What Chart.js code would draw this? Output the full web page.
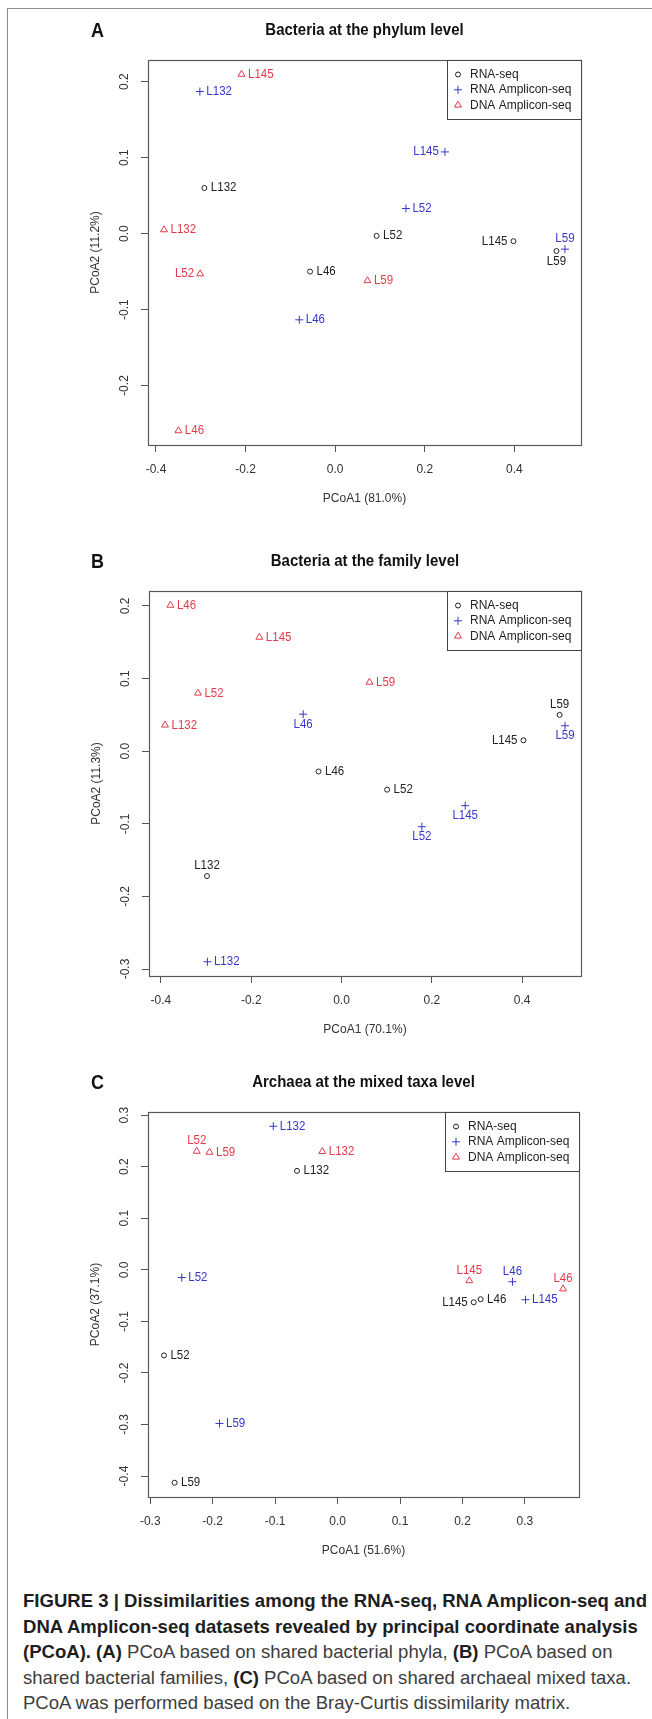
<!DOCTYPE html>
<html>
<head>
<meta charset="utf-8">
<script src="https://cdn.jsdelivr.net/npm/chart.js@4.4.1/dist/chart.umd.min.js"></script>
<style>
  html, body { margin: 0; padding: 0; background: #fff; overflow: hidden; }
  #page { position: relative; width: 652px; height: 1719px; overflow: hidden; }
  #frame { position: absolute; left: 7px; top: 8px; width: 700px; height: 1800px; border: 1px solid #8c8c8c; }
  canvas { position: absolute; left: 0; }
  #caption { position: absolute; left: 23px; top: 1588px; font-family: "Liberation Sans", Arial, Helvetica, sans-serif; font-size: 18.5px; line-height: 25.6px; color: #3d3d3d; }
  #caption div { white-space: nowrap; transform-origin: 0 50%; }
  #caption span.line { display: inline-block; }
  #caption b { color: #1e1e1e; }
</style>
</head>
<body>
<div id="page">
  <div id="frame"></div>
  <canvas id="chartA" width="652" height="520" style="top:0px"></canvas>
  <canvas id="chartB" width="652" height="520" style="top:530px"></canvas>
  <canvas id="chartC" width="652" height="520" style="top:1050px"></canvas>
  <div id="caption">
    <div><span class="line"><b>FIGURE 3 | Dissimilarities among the RNA-seq, RNA Amplicon-seq and</b></span></div>
    <div><span class="line"><b>DNA Amplicon-seq datasets revealed by principal coordinate analysis</b></span></div>
    <div><span class="line"><b>(PCoA). (A)</b> PCoA based on shared bacterial phyla, <b>(B)</b> PCoA based on</span></div>
    <div><span class="line">shared bacterial families, <b>(C)</b> PCoA based on shared archaeal mixed taxa.</span></div>
    <div><span class="line">PCoA was performed based on the Bray-Curtis dissimilarity matrix.</span></div>
  </div>
</div>
<script>
// samples, same order in every array
const samples = ['L46', 'L52', 'L59', 'L132', 'L145']
const seriesNames = ['RNA-seq', 'RNA Amplicon-seq', 'DNA Amplicon-seq']

// A - bacteria, phylum level
const phylumRnaSeqX = [-0.056, 0.0925, 0.494, -0.292, 0.398]
const phylumRnaSeqY = [-0.050, -0.003, -0.023, 0.060, -0.010]
const phylumRnaAmpX = [-0.080, 0.158, 0.513, -0.302, 0.245]
const phylumRnaAmpY = [-0.1135, 0.033, -0.0205, 0.187, 0.1075]
const phylumDnaAmpX = [-0.350, -0.3015, 0.072, -0.382, -0.209]
const phylumDnaAmpY = [-0.2595, -0.053, -0.062, 0.005, 0.2097]

// B - bacteria, family level
const familyRnaSeqX = [-0.051, 0.101, 0.483, -0.298, 0.403]
const familyRnaSeqY = [-0.028, -0.053, 0.050, -0.172, 0.015]
const familyRnaAmpX = [-0.085, 0.178, 0.495, -0.297, 0.274]
const familyRnaAmpY = [0.051, -0.104, 0.035, -0.290, -0.075]
const familyDnaAmpX = [-0.379, -0.318, 0.062, -0.391, -0.182]
const familyDnaAmpY = [0.201, 0.080, 0.095, 0.036, 0.157]

// C - archaea, mixed taxa level
const archaeaRnaSeqX = [0.229, -0.278, -0.261, -0.065, 0.218]
const archaeaRnaSeqY = [-0.057, -0.166, -0.413, 0.192, -0.063]
const archaeaRnaAmpX = [0.280, -0.2495, -0.189, -0.103, 0.301]
const archaeaRnaAmpY = [-0.023, -0.015, -0.298, 0.2785, -0.058]
const archaeaDnaAmpX = [0.361, -0.2255, -0.205, -0.0245, 0.211]
const archaeaDnaAmpY = [-0.037, 0.230, 0.228, 0.2295, -0.021]

// side of the point where each sample name is written
const phylumLabelSide = [
  ['right', 'right', 'below', 'right', 'left'],
  ['right', 'right', 'above', 'right', 'left'],
  ['right', 'left', 'right', 'right', 'right']
]
const familyLabelSide = [
  ['right', 'right', 'above', 'above', 'left'],
  ['below', 'below', 'below', 'right', 'below'],
  ['right', 'right', 'right', 'right', 'right']
]
const archaeaLabelSide = [
  ['right', 'right', 'right', 'right', 'left'],
  ['above', 'right', 'right', 'right', 'right'],
  ['above', 'above', 'right', 'right', 'above']
]

const FONT = '"Liberation Sans", Arial, Helvetica, sans-serif'
const colors = ['#222222', '#3636cc', '#e23a48']
const styles = ['circle', 'cross', 'triangle']
const radii = [2.5, 4, 4]
const STRETCH = 1.1 // text in the original is a little taller than wide

function toPoints(xs, ys) {
  return xs.map((x, i) => ({ x: x, y: ys[i] }))
}

// R default: data range plus 4% on each side
function rRange(arrays) {
  let all = [].concat(...arrays)
  let lo = Math.min(...all), hi = Math.max(...all)
  let d = (hi - lo) * 0.04
  return [lo - d, hi + d]
}

function fmt(v) {
  if (Math.abs(v) < 1e-9) v = 0
  return v.toFixed(1)
}

function tallText(ctx, text, x, y) {
  ctx.save()
  ctx.translate(x, y)
  ctx.scale(1, STRETCH)
  ctx.fillText(text, 0, 0)
  ctx.restore()
}

function drawSymbol(ctx, style, x, y, r) {
  ctx.beginPath()
  if (style === 'circle') {
    ctx.arc(x, y, r, 0, Math.PI * 2)
  } else if (style === 'cross') {
    ctx.moveTo(x - r, y); ctx.lineTo(x + r, y)
    ctx.moveTo(x, y - r); ctx.lineTo(x, y + r)
  } else {
    ctx.moveTo(x, y - r)
    ctx.lineTo(x + r * Math.sin(Math.PI / 3 * 2), y + r / 2)
    ctx.lineTo(x - r * Math.sin(Math.PI / 3 * 2), y + r / 2)
    ctx.closePath()
  }
  ctx.stroke()
}

const panelDecor = {
  id: 'panelDecor',
  afterDraw(chart, args, opts) {
    const ctx = chart.ctx
    const a = chart.chartArea
    const xs = chart.scales.x, ys = chart.scales.y
    ctx.save()

    // plot box
    ctx.strokeStyle = '#5a5a5a'
    ctx.lineWidth = 1.2
    ctx.strokeRect(Math.round(a.left) + 0.5, Math.round(a.top) + 0.5,
      Math.round(a.right - a.left), Math.round(a.bottom - a.top))

    // tick labels
    ctx.fillStyle = '#333'
    ctx.font = '12px ' + FONT
    ctx.textAlign = 'center'
    ctx.textBaseline = 'middle'
    xs.ticks.forEach(t => {
      tallText(ctx, fmt(t.value), xs.getPixelForValue(t.value), a.bottom + 24)
    })
    ys.ticks.forEach(t => {
      ctx.save()
      ctx.translate(a.left - 23.5, ys.getPixelForValue(t.value))
      ctx.rotate(-Math.PI / 2)
      ctx.fillText(fmt(t.value), 0, 0)
      ctx.restore()
    })

    // axis titles
    tallText(ctx, opts.xTitle, (a.left + a.right) / 2, a.bottom + 53.5)
    ctx.save()
    ctx.translate(a.left - 52.5, (a.top + a.bottom) / 2)
    ctx.rotate(-Math.PI / 2)
    ctx.fillText(opts.yTitle, 0, 0)
    ctx.restore()

    // panel letter + title
    ctx.fillStyle = '#111'
    ctx.font = 'bold 18px ' + FONT
    ctx.textAlign = 'left'
    tallText(ctx, opts.letter, 91, a.top - 28)
    ctx.font = 'bold 15px ' + FONT
    ctx.textAlign = 'center'
    tallText(ctx, opts.title, (a.left + a.right) / 2, a.top - 30)

    // sample names next to the points
    ctx.font = '11.5px ' + FONT
    chart.data.datasets.forEach((ds, i) => {
      const meta = chart.getDatasetMeta(i)
      ctx.fillStyle = colors[i]
      meta.data.forEach((pt, j) => {
        const side = opts.sides[i][j]
        const name = samples[j]
        if (side === 'right') {
          ctx.textAlign = 'left'; tallText(ctx, name, pt.x + 6.5, pt.y)
        } else if (side === 'left') {
          ctx.textAlign = 'right'; tallText(ctx, name, pt.x - 6, pt.y)
        } else if (side === 'above') {
          ctx.textAlign = 'center'; tallText(ctx, name, pt.x, pt.y - 10.5)
        } else {
          ctx.textAlign = 'center'; tallText(ctx, name, pt.x, pt.y + 10)
        }
      })
    })

    // legend, top right corner
    const lw = 134, lh = 59
    const lx = Math.round(a.right - lw), ly = Math.round(a.top)
    ctx.fillStyle = '#fff'
    ctx.fillRect(lx, ly, lw, lh)
    ctx.strokeStyle = '#444'
    ctx.lineWidth = 1
    ctx.strokeRect(lx + 0.5, ly + 0.5, lw, lh)
    ctx.font = '12px ' + FONT
    ctx.textAlign = 'left'
    seriesNames.forEach((name, i) => {
      const y = ly + 14.5 + i * 15.3
      ctx.strokeStyle = colors[i]
      drawSymbol(ctx, styles[i], lx + 11, y, radii[i])
      ctx.fillStyle = '#222'
      tallText(ctx, name, lx + 23, y)
    })
    ctx.restore()
  }
}

function makePanel(id, xsArr, ysArr, stepX, area, decor) {
  const xr = rRange(xsArr), yr = rRange(ysArr)
  const datasets = seriesNames.map((name, i) => ({
    label: name,
    data: toPoints(xsArr[i], ysArr[i]),
    pointStyle: styles[i],
    pointRadius: radii[i],
    borderColor: colors[i],
    backgroundColor: 'rgba(0,0,0,0)',
    borderWidth: 1
  }))
  const tickGrid = { display: true, drawOnChartArea: false, drawTicks: true, tickLength: 7, tickColor: '#555', tickWidth: 1 }
  return new Chart(document.getElementById(id), {
    type: 'scatter',
    data: { datasets: datasets },
    options: {
      responsive: false,
      animation: false,
      devicePixelRatio: 1,
      events: [],
      layout: { padding: { left: 0, top: area.top, right: 652 - area.right, bottom: 0 } },
      plugins: { legend: { display: false }, tooltip: { enabled: false }, panelDecor: decor },
      scales: {
        x: {
          type: 'linear', min: xr[0], max: xr[1],
          ticks: { display: false, stepSize: stepX, includeBounds: false },
          grid: tickGrid, border: { display: false },
          afterFit: s => { s.height = 520 - area.bottom }
        },
        y: {
          type: 'linear', min: yr[0], max: yr[1],
          ticks: { display: false, stepSize: 0.1, includeBounds: false },
          grid: tickGrid, border: { display: false },
          afterFit: s => { s.width = area.left }
        }
      }
    },
    plugins: [panelDecor]
  })
}

makePanel('chartA',
  [phylumRnaSeqX, phylumRnaAmpX, phylumDnaAmpX],
  [phylumRnaSeqY, phylumRnaAmpY, phylumDnaAmpY],
  0.2, { left: 148, top: 60, right: 581, bottom: 445 },
  { letter: 'A', title: 'Bacteria at the phylum level', xTitle: 'PCoA1 (81.0%)', yTitle: 'PCoA2 (11.2%)', sides: phylumLabelSide })

makePanel('chartB',
  [familyRnaSeqX, familyRnaAmpX, familyDnaAmpX],
  [familyRnaSeqY, familyRnaAmpY, familyDnaAmpY],
  0.2, { left: 149, top: 61, right: 581, bottom: 446 },
  { letter: 'B', title: 'Bacteria at the family level', xTitle: 'PCoA1 (70.1%)', yTitle: 'PCoA2 (11.3%)', sides: familyLabelSide })

makePanel('chartC',
  [archaeaRnaSeqX, archaeaRnaAmpX, archaeaDnaAmpX],
  [archaeaRnaSeqY, archaeaRnaAmpY, archaeaDnaAmpY],
  0.1, { left: 148, top: 62, right: 579, bottom: 447 },
  { letter: 'C', title: 'Archaea at the mixed taxa level', xTitle: 'PCoA1 (51.6%)', yTitle: 'PCoA2 (37.1%)', sides: archaeaLabelSide })

// squeeze caption lines to the width of the original
let lines = document.querySelectorAll('#caption div')
let first = lines[0].querySelector('span').getBoundingClientRect().width
let k = 624 / first
lines.forEach(l => { l.style.transform = 'scaleX(' + k + ')' })
</script>
</body>
</html>
